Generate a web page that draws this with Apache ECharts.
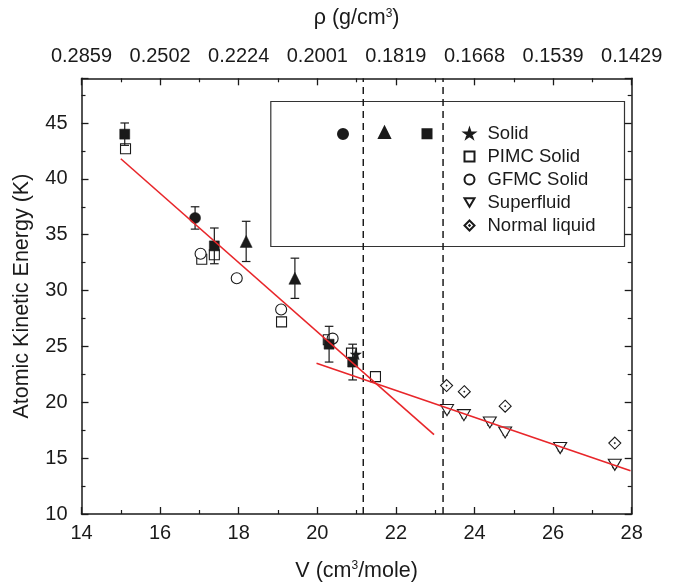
<!DOCTYPE html>
<html>
<head>
<meta charset="utf-8">
<script src="https://cdn.jsdelivr.net/npm/echarts@6/dist/echarts.min.js"></script>
<style>
  html, body { margin: 0; padding: 0; background: #fff; }
  #chart { width: 683px; height: 588px; }
</style>
</head>
<body>
<div id="chart"></div>
<script>
// Molar volume V (cm^3/mole) vs. atomic kinetic energy (K)
const rhoLabels = ['0.2859', '0.2502', '0.2224', '0.2001', '0.1819', '0.1668', '0.1539', '0.1429'];

// Solid phase, open symbols (calculations)
const pimcSolid = [[15.12, 42.7], [17.06, 32.8], [17.38, 33.2], [19.09, 27.2], [20.28, 25.6], [20.87, 24.4], [21.48, 22.3]];
const gfmcSolid = [[17.03, 33.3], [17.95, 31.1], [19.08, 28.3], [20.39, 25.7]];

// Solid phase, filled symbols (measurements) and their error half-widths
const solidCircle = [[16.89, 36.5]];
const solidCircleErr = [1.0];
const solidTriangle = [[18.19, 34.4], [19.43, 31.1]];
const solidTriangleErr = [1.8, 1.8];
const solidSquare = [[15.1, 44.0], [17.38, 34.0], [20.3, 25.2], [20.9, 23.6]];
const solidSquareErr = [1.0, 1.6, 1.6, 1.6];
const solidStar = [[20.98, 24.3]];

// Liquid phases
const superfluid = [[23.3, 19.3], [23.73, 18.85], [24.39, 18.2], [24.78, 17.3], [26.18, 15.9], [27.57, 14.4]];
const superfluidErr = [0.25, 0.25, 0.25, 0.25, 0.25, 0.25];
const normalLiquid = [[23.29, 21.5], [23.74, 20.95], [24.78, 19.65], [27.57, 16.35]];
const normalLiquidErr = [0.25, 0.25, 0.25, 0.25];

// Linear fits and phase boundaries
const fitSolid = [[15.0, 41.8], [22.97, 17.1]];
const fitLiquid = [[19.98, 23.5], [27.97, 13.87]];
const phaseBounds = [21.17, 23.2];

const FONT = '"Liberation Sans", Arial, Helvetica, sans-serif';
const INK = '#1a1a1a';

const STAR = 'path://M0,-1 L0.2245,-0.309 L0.951,-0.309 L0.363,0.118 L0.588,0.809 L0,0.382 L-0.588,0.809 L-0.363,0.118 L-0.951,-0.309 L-0.2245,-0.309 Z';
const DOWN_TRI = 'path://M-1,-0.85 L1,-0.85 L0,0.85 Z';
const DIAMOND_DOT = 'path://M0,-1 L1,0 L0,1 L-1,0 Z M0,-0.06 L0.06,0 L0,0.06 L-0.06,0 Z';

function withErr(points, errs) {
  return points.map((p, i) => [p[0], p[1] - errs[i], p[1] + errs[i]]);
}

function errorBars(name, data, cap) {
  return {
    name: name,
    type: 'custom',
    data: data,
    encode: { x: 0, y: [1, 2] },
    z: 3,
    silent: true,
    renderItem: function (params, api) {
      const x = api.value(0);
      const lo = api.coord([x, api.value(1)]);
      const hi = api.coord([x, api.value(2)]);
      const st = { stroke: INK, lineWidth: 1.2 };
      return {
        type: 'group',
        children: [
          { type: 'line', shape: { x1: lo[0], y1: lo[1], x2: hi[0], y2: hi[1] }, style: st },
          { type: 'line', shape: { x1: lo[0] - cap, y1: lo[1], x2: lo[0] + cap, y2: lo[1] }, style: st },
          { type: 'line', shape: { x1: hi[0] - cap, y1: hi[1], x2: hi[0] + cap, y2: hi[1] }, style: st }
        ]
      };
    }
  };
}

function boundaryLine(x) {
  return {
    type: 'line',
    data: [[x, 10], [x, 49]],
    symbol: 'none',
    silent: true,
    z: 1,
    lineStyle: { color: INK, width: 1.5, type: [7, 5] }
  };
}

const openStyle = { color: '#fff', borderColor: INK, borderWidth: 1.1, opacity: 1 };
const filledStyle = { color: INK, borderColor: INK, borderWidth: 0.5, opacity: 1 };

const axisLine = { show: true, lineStyle: { color: INK, width: 1.5 } };
const labelStyle = { color: INK, fontFamily: FONT, fontSize: 20 };
const supRich = { sup: { fontSize: 12, fontFamily: FONT, color: INK, verticalAlign: 'top', padding: [0, 0, 10, 0] } };

const chart = echarts.init(document.getElementById('chart'), null, { renderer: 'canvas' });

chart.setOption({
  backgroundColor: '#fff',
  animation: false,
  grid: { left: 81.5, right: 51.3, top: 78.3, bottom: 74 },
  xAxis: [
    {
      type: 'value', position: 'bottom', min: 14, max: 28, interval: 2,
      name: 'V (cm{sup|3}/mole)', nameLocation: 'middle', nameGap: 46,
      nameTextStyle: { color: INK, fontFamily: FONT, fontSize: 21.5, rich: supRich },
      axisLine: axisLine,
      axisTick: { show: true, inside: true, length: 7, lineStyle: { color: INK, width: 1.3 } },
      minorTick: { show: true, splitNumber: 2, length: 4, lineStyle: { color: INK, width: 1.2 } },
      axisLabel: Object.assign({ margin: 9 }, labelStyle),
      splitLine: { show: false }
    },
    {
      type: 'value', position: 'top', min: 14, max: 28, interval: 2,
      name: 'ρ (g/cm{sup|3})', nameLocation: 'middle', nameGap: 49,
      nameTextStyle: { color: INK, fontFamily: FONT, fontSize: 21.5, rich: supRich },
      axisLine: axisLine,
      axisTick: { show: true, inside: true, length: 7, lineStyle: { color: INK, width: 1.3 } },
      minorTick: { show: true, splitNumber: 2, length: 4, lineStyle: { color: INK, width: 1.2 } },
      axisLabel: Object.assign({
        margin: 12,
        formatter: function (v) {
          const i = Math.round((v - 14) / 2);
          return rhoLabels[i] !== undefined ? rhoLabels[i] : '';
        }
      }, labelStyle),
      splitLine: { show: false }
    }
  ],
  yAxis: [
    {
      type: 'value', position: 'left', min: 10, max: 49, interval: 5,
      name: 'Atomic Kinetic Energy (K)', nameLocation: 'middle', nameGap: 48.5,
      nameTextStyle: { color: INK, fontFamily: FONT, fontSize: 21.5 },
      axisLine: axisLine,
      axisTick: { show: true, inside: true, length: 7, lineStyle: { color: INK, width: 1.3 } },
      minorTick: { show: true, splitNumber: 2, length: 4, lineStyle: { color: INK, width: 1.2 } },
      axisLabel: Object.assign({
        margin: 14,
        showMaxLabel: false,
        formatter: function (v) { return v % 5 === 0 ? String(v) : ''; }
      }, labelStyle),
      splitLine: { show: false }
    },
    {
      type: 'value', position: 'right', min: 10, max: 49, interval: 5,
      axisLine: axisLine,
      axisTick: { show: true, inside: true, length: 7, lineStyle: { color: INK, width: 1.3 } },
      minorTick: { show: true, splitNumber: 2, length: 4, lineStyle: { color: INK, width: 1.2 } },
      axisLabel: { show: false },
      splitLine: { show: false }
    }
  ],
  legend: [
    {
      data: ['Solid', 'PIMC Solid', 'GFMC Solid', 'Superfluid', 'Normal liquid'],
      orient: 'vertical', left: 463.5, top: 124, padding: 0,
      itemWidth: 10, itemHeight: 10, itemGap: 4,
      selectedMode: false,
      textStyle: { color: INK, fontFamily: FONT, fontSize: 18.5, lineHeight: 18, padding: [0, 0, 0, 8] }
    },
    {
      data: ['Solid (circle)'], left: 337, top: 128, padding: 0,
      itemWidth: 10, itemHeight: 10, itemTextGap: 0, selectedMode: false,
      formatter: function () { return ''; }
    },
    {
      data: ['Solid (triangle)'], left: 378, top: 126, padding: 0,
      itemWidth: 11, itemHeight: 11, itemTextGap: 0, selectedMode: false,
      formatter: function () { return ''; }
    },
    {
      data: ['Solid (square)'], left: 421.5, top: 128.2, padding: 0,
      itemWidth: 9, itemHeight: 9, itemTextGap: 0, selectedMode: false,
      formatter: function () { return ''; }
    }
  ],
  graphic: [
    {
      type: 'rect', left: 268.3, top: 99, z: 0, silent: true,
      shape: { width: 353.7, height: 145 },
      style: { fill: 'none', stroke: '#333', lineWidth: 1.2 }
    }
  ],
  series: [
    boundaryLine(phaseBounds[0]),
    boundaryLine(phaseBounds[1]),
    {
      name: 'PIMC Solid', type: 'scatter', data: pimcSolid, z: 2,
      symbol: 'rect', symbolSize: 10, itemStyle: openStyle
    },
    {
      name: 'GFMC Solid', type: 'scatter', data: gfmcSolid, z: 2,
      symbol: 'circle', symbolSize: 11, itemStyle: openStyle
    },
    errorBars('err-circle', withErr(solidCircle, solidCircleErr), 4.3),
    errorBars('err-triangle', withErr(solidTriangle, solidTriangleErr), 4.3),
    errorBars('err-square', withErr(solidSquare, solidSquareErr), 4.3),
    errorBars('err-superfluid', withErr(superfluid, superfluidErr), 2.5),
    errorBars('err-liquid', withErr(normalLiquid, normalLiquidErr), 2.5),
    {
      name: 'Solid (circle)', type: 'scatter', data: solidCircle, z: 4,
      symbol: 'circle', symbolSize: 11, itemStyle: filledStyle
    },
    {
      name: 'Solid (triangle)', type: 'scatter', data: solidTriangle, z: 4,
      symbol: 'triangle', symbolSize: 12, itemStyle: filledStyle
    },
    {
      name: 'Solid (square)', type: 'scatter', data: solidSquare, z: 4,
      symbol: 'rect', symbolSize: 10, itemStyle: filledStyle
    },
    {
      name: 'Solid', type: 'scatter', data: solidStar, z: 4,
      symbol: STAR, symbolSize: 11, itemStyle: filledStyle
    },
    {
      name: 'Superfluid', type: 'scatter', data: superfluid, z: 4,
      symbol: DOWN_TRI, symbolSize: [13, 11], itemStyle: openStyle
    },
    {
      name: 'Normal liquid', type: 'scatter', data: normalLiquid, z: 4,
      symbol: DIAMOND_DOT, symbolSize: 12, itemStyle: openStyle
    },
    {
      type: 'line', data: fitSolid, symbol: 'none', silent: true, z: 5,
      lineStyle: { color: '#e8262a', width: 1.6 }
    },
    {
      type: 'line', data: fitLiquid, symbol: 'none', silent: true, z: 5,
      lineStyle: { color: '#e8262a', width: 1.6 }
    }
  ]
});
</script>
</body>
</html>
